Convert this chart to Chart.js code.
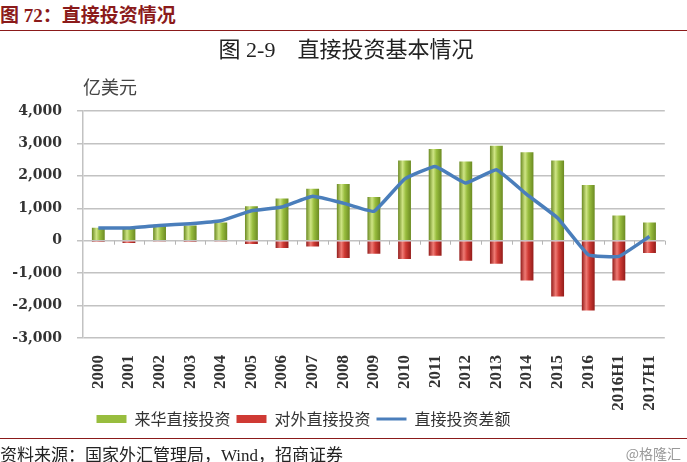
<!DOCTYPE html>
<html>
<head>
<meta charset="utf-8">
<script src="https://cdn.jsdelivr.net/npm/chart.js@4.4.1/dist/chart.umd.min.js"></script>
<style>
  body { margin: 0; width: 687px; height: 462px; background: #fff; position: relative; overflow: hidden; }
  .hdr { position: absolute; left: 0; top: 0; font: bold 19px 'Liberation Serif', 'Noto Sans CJK SC'; color: #8b1a1a; }
  .rule { position: absolute; left: 0; width: 687px; height: 1px; background: #8b1a1a; }
  .title { position: absolute; left: 0; width: 692px; top: 31px; text-align: center; font: 22px 'Liberation Serif', 'Noto Sans CJK SC'; color: #222; }
  .unit { position: absolute; left: 83px; top: 73px; font: 18px 'Noto Sans CJK SC'; color: #444; }
  .src { position: absolute; left: 0; top: 441px; font: 17px 'Liberation Serif', 'Noto Sans CJK SC'; color: #222; }
  .mark { position: absolute; right: 6px; top: 443px; font: 14px 'Noto Sans CJK SC'; color: #999; }
  #wrap { position: absolute; left: 0; top: 60px; width: 687px; height: 389px; }
</style>
</head>
<body>
<div id="wrap"><canvas id="chart"></canvas></div>
<div class="hdr">图 72：直接投资情况</div>
<div class="rule" style="top:30px"></div>
<div class="title">图 2-9&nbsp;&nbsp;&nbsp;&nbsp;直接投资基本情况</div>
<div class="unit">亿美元</div>
<div class="rule" style="top:438px"></div>
<div class="src">资料来源：国家外汇管理局，Wind，招商证券</div>
<div class="mark">@格隆汇</div>
<script>
// Data (亿美元)
const years = ['2000', '2001', '2002', '2003', '2004', '2005', '2006', '2007', '2008', '2009',
  '2010', '2011', '2012', '2013', '2014', '2015', '2016', '2016H1', '2017H1'];
const inflow = [400, 400, 490, 470, 565, 1060, 1300, 1600, 1750, 1350,
  2470, 2830, 2440, 2930, 2725, 2470, 1720, 780, 565];
const outflow = [-10, -70, -20, -10, -20, -100, -225, -175, -535, -400,
  -565, -465, -620, -710, -1225, -1720, -2150, -1225, -380];
const net = [390, 390, 470, 525, 615, 925, 1040, 1370, 1160, 905,
  1900, 2290, 1780, 2190, 1420, 700, -430, -485, 130];
const yTicks = [4000, 3000, 2000, 1000, 0, -1000, -2000, -3000];

const BAR_PCT = 0.42;

// Horizontal gradient so each bar looks like a cylinder
function cylinder(dark, light, mid) {
  return (c) => {
    const chart = c.chart;
    const xs = chart.scales.x;
    if (c.type !== 'data' || !xs || !chart.chartArea) return mid;
    const x = xs.getPixelForValue(c.dataIndex);
    const w = (xs.width / years.length) * BAR_PCT;
    const g = chart.ctx.createLinearGradient(x - w / 2, 0, x + w / 2, 0);
    g.addColorStop(0, dark);
    g.addColorStop(0.35, light);
    g.addColorStop(0.6, mid);
    g.addColorStop(1, dark);
    return g;
  };
}

// Move legend up/left so it sits where the original one does
const legendShift = {
  id: 'legendShift',
  afterLayout(chart) {
    const lg = chart.legend;
    lg.left -= 38;
    lg.right -= 38;
    lg.top -= 12;
    lg.bottom -= 12;
  }
};

// Small category tick marks hanging under the zero line
const zeroTicks = {
  id: 'zeroTicks',
  beforeDatasetsDraw(chart) {
    const xs = chart.scales.x;
    const y0 = chart.scales.y.getPixelForValue(0);
    const step = xs.width / years.length;
    const ctx = chart.ctx;
    ctx.save();
    ctx.strokeStyle = '#b5b5b5';
    ctx.lineWidth = 1;
    ctx.beginPath();
    for (let i = 1; i <= years.length; i++) {
      const x = Math.round(xs.left + i * step) + 0.5;
      ctx.moveTo(x, y0);
      ctx.lineTo(x, y0 + 4);
    }
    ctx.stroke();
    ctx.restore();
  }
};

new Chart(document.getElementById('chart'), {
  type: 'bar',
  data: {
    labels: years,
    datasets: [
      {
        label: '来华直接投资',
        data: inflow,
        backgroundColor: cylinder('#6b8a22', '#cfe585', '#98bd3e'),
        legendColor: '#98bd3e',
        barPercentage: BAR_PCT,
        categoryPercentage: 1,
        stack: 'bars',
        order: 1
      },
      {
        label: '对外直接投资',
        data: outflow,
        backgroundColor: cylinder('#931c1a', '#ef7a74', '#cf3a34'),
        legendColor: '#cf3a34',
        barPercentage: BAR_PCT,
        categoryPercentage: 1,
        stack: 'bars',
        order: 1
      },
      {
        type: 'line',
        label: '直接投资差额',
        data: net,
        borderColor: '#4a7ebb',
        backgroundColor: '#4a7ebb',
        borderWidth: 3.5,
        pointRadius: 0,
        tension: 0.1,
        stack: 'line',
        order: 0
      }
    ]
  },
  options: {
    responsive: true,
    maintainAspectRatio: false,
    animation: false,
    layout: { padding: { top: 51, bottom: 0, left: 0, right: 4 } },
    scales: {
      x: {
        stacked: true,
        grid: { display: false, drawTicks: false },
        border: { display: false },
        ticks: {
          font: { family: 'Liberation Serif', size: 17, weight: 'bold' },
          color: '#333',
          maxRotation: 90,
          minRotation: 90,
          autoSkip: false,
          padding: 17
        },
        afterFit(scale) { scale.height = 79; }
      },
      y: {
        stacked: true,
        min: -3000,
        max: 4000,
        afterBuildTicks(scale) { scale.ticks = yTicks.map(v => ({ value: v })); },
        grid: { color: '#c2c2c2', lineWidth: 1.5, tickLength: 6 },
        border: { display: true, color: '#c2c2c2', width: 1.5 },
        ticks: {
          font: { family: 'DejaVu Serif', size: 14, weight: 'bold' },
          color: '#333',
          padding: 15,
          callback: v => v.toLocaleString('en-US')
        },
        afterFit(scale) { scale.width = 83; }
      }
    },
    plugins: {
      tooltip: { enabled: false },
      legend: {
        position: 'bottom',
        labels: {
          usePointStyle: true,
          pointStyleWidth: 30,
          boxHeight: 8,
          padding: 6,
          color: '#333',
          font: { family: 'Noto Sans CJK SC', size: 16 },
          sort: (a, b) => a.datasetIndex - b.datasetIndex,
          generateLabels(chart) {
            const items = Chart.defaults.plugins.legend.labels.generateLabels(chart);
            items.forEach(it => {
              const ds = chart.data.datasets[it.datasetIndex];
              if (ds.type === 'line') {
                it.pointStyle = 'line';
                it.strokeStyle = ds.borderColor;
                it.lineWidth = 3;
              } else {
                it.pointStyle = 'rect';
                it.fillStyle = ds.legendColor;
                it.strokeStyle = ds.legendColor;
                it.lineWidth = 0;
              }
            });
            return items;
          }
        }
      }
    }
  },
  plugins: [legendShift, zeroTicks]
});
</script>
</body>
</html>
